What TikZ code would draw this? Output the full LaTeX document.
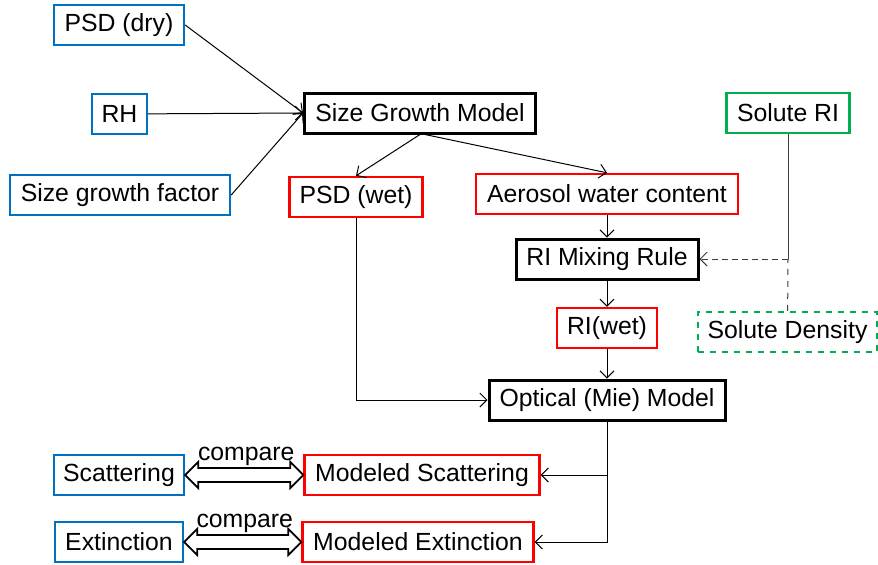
\documentclass[tikz,border=0pt]{standalone}
\usepackage{fontspec}
\setmainfont{Liberation Sans}
\usepackage{tikz}
\usetikzlibrary{
    positioning,
    arrows.meta,
    calc
}
\definecolor{inBlue}{RGB}{0, 112, 192}
\definecolor{outRed}{RGB}{255, 0, 0}
\definecolor{soluteGreen}{RGB}{0, 176, 80}
\definecolor{linkGray}{RGB}{60, 60, 60}

\begin{document}
\begin{tikzpicture}[x=0.5pt, y=-0.5pt,
    box/.style={draw, minimum height=20pt, inner xsep=4pt, inner ysep=0pt,
                font=\fontsize{12.4}{14}\selectfont},
    inbox/.style={box, inBlue, text=black, line width=1.2pt},
    outbox/.style={box, outRed, text=black, line width=1.2pt},
    modelbox/.style={box, black, line width=1.5pt},
    solbox/.style={box, soluteGreen, text=black, line width=1.2pt},
    link/.style={line width=0.5pt, -{Straight Barb[length=3.5pt, width=7pt]}},
    cmp/.style={draw, fill=white, line width=0.9pt, line join=miter}
]
            \useasboundingbox (0,0) rectangle (878,564);

            % inputs on the left
            \node[inbox, minimum width=65pt]  (psddry) at (119,25)  {PSD (dry)};
            \node[inbox, minimum width=27.5pt] (rh)    at (119.5,114) {RH};
            \node[inbox, minimum width=110pt] (sgf)    at (120,195) {Size growth factor};

            % models and intermediate results
            \node[modelbox, minimum width=115.5pt] (sgm) at (420,113) {Size Growth Model};
            \node[outbox, minimum width=66.5pt] (psdwet) at (356,197) {PSD (wet)};
            \node[outbox, minimum width=131pt]  (awc)    at (607,194) {Aerosol water content};
            \node[modelbox, minimum width=91pt] (rimr)   at (607,259) {RI Mixing Rule};
            \node[outbox, minimum width=50pt]   (riwet)  at (607,328) {RI(wet)};
            \node[modelbox, minimum width=118pt] (optical) at (607,400) {Optical (Mie) Model};

            % solute properties
            \node[solbox, minimum width=61.5pt] (soluteri) at (788,113) {Solute RI};
            \node[solbox, dashed, minimum width=89.5pt] (soldens) at (787.5,332) {Solute Density};

            % measured vs modeled
            \node[inbox, minimum width=65pt]     (scat)  at (119,475) {Scattering};
            \node[outbox, minimum width=117.5pt] (mscat) at (422,475) {Modeled Scattering};
            \node[inbox, minimum width=64pt]     (ext)   at (119,542) {Extinction};
            \node[outbox, minimum width=115.5pt] (mext)  at (418,542) {Modeled Extinction};

            \coordinate (mix) at (soluteri.south |- rimr.east);
            \coordinate (fork) at (optical.south |- mscat.east);

            \draw[link] (psddry.east) -- (sgm.west);
            \draw[link] (rh) -- (sgm.west);
            \draw[link] (sgf.east) -- (sgm.west);
            \draw[link] (sgm.south) -- (psdwet.north);
            \draw[link] ($(sgm.south)+(5,0)$) -- (awc.north);
            \draw[link] (awc) -- (rimr);
            \draw[link] (rimr) -- (riwet);
            \draw[link] (riwet) -- (optical);
            \draw[link] (psdwet.south) |- (optical.west);

            \draw[line width=0.5pt, linkGray] (soluteri) -- (mix);
            \draw[line width=0.5pt, linkGray, dashed] (soldens) -- (mix);
            \draw[link, linkGray, densely dashed] (mix) -- (rimr.east);

            \draw[line width=0.5pt] (optical) -- (fork);
            \draw[link] (fork) -- (mscat.east);
            \draw[link] (fork) |- (mext.east);

            % hollow double arrows between measured and modeled
            \foreach \a/\b in {scat/mscat, ext/mext} {
                \draw[cmp] (\a.east) -- ++(13,-13) -- ++(0,6)
                    -- ($(\b.west)+(-13,-7)$) -- ++(0,-6) -- (\b.west)
                    -- ++(-13,13) -- ++(0,-6)
                    -- ($(\a.east)+(13,7)$) -- ++(0,6) -- cycle;
                \node[anchor=south, inner sep=0pt,
                      font=\fontsize{12.4}{14}\selectfont]
                    at ($(\a.east)!0.5!(\b.west)+(2,-9)$) {compare};
            }
        \end{tikzpicture}
\end{document}
